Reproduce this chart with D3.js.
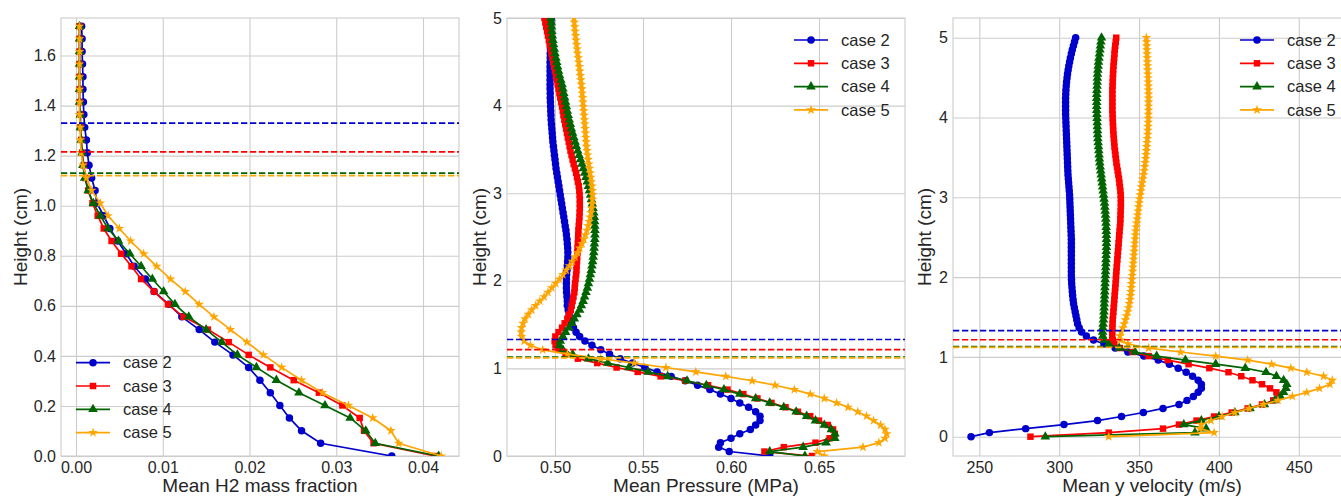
<!DOCTYPE html>
<html>
<head>
<meta charset="utf-8">
<script src="https://cdn.jsdelivr.net/npm/d3@7"></script>
<style>
  body { margin: 0; background: #fff; }
  svg { display: block; font-family: "Liberation Sans", Arial, sans-serif; }
</style>
</head>
<body>
<div id="chart"></div>
<script>
// Sample heights (cm), shared by every profile
const heights = [
  0, 0.051, 0.101, 0.152, 0.202, 0.253, 0.303, 0.354, 0.404, 0.455,
  0.505, 0.556, 0.606, 0.657, 0.707, 0.758, 0.808, 0.859, 0.909, 0.960,
  1.010, 1.061, 1.111, 1.162, 1.212, 1.263, 1.313, 1.364, 1.414, 1.465,
  1.515, 1.566, 1.616, 1.667, 1.717, 1.768, 1.818, 1.869, 1.919, 1.970,
  2.020, 2.071, 2.121, 2.172, 2.222, 2.273, 2.323, 2.374, 2.424, 2.475,
  2.525, 2.576, 2.626, 2.677, 2.727, 2.778, 2.828, 2.879, 2.929, 2.980,
  3.030, 3.081, 3.131, 3.182, 3.232, 3.283, 3.333, 3.384, 3.434, 3.485,
  3.535, 3.586, 3.636, 3.687, 3.737, 3.788, 3.838, 3.889, 3.939, 3.990,
  4.040, 4.091, 4.141, 4.192, 4.242, 4.293, 4.343, 4.394, 4.444, 4.495,
  4.545, 4.596, 4.646, 4.697, 4.747, 4.798, 4.848, 4.899, 4.949, 5.000
];

const caseNames = ["case 2", "case 3", "case 4", "case 5"];
const caseColors = ["#0000cd", "#ff0000", "#006400", "#ffa500"];
const caseSymbols = [d3.symbolCircle, d3.symbolSquare, d3.symbolTriangle, d3.symbolStar];
const symbolSizes = [44, 42, 40, 30];

// Dashed interface heights, one per case
const interfaceHeights = [1.33, 1.215, 1.13, 1.12];

// Mean H2 mass fraction (first 35 heights)
const h2Case2 = [0.0364, 0.0282, 0.026, 0.0246, 0.0235, 0.0224, 0.0212, 0.0199, 0.0181, 0.016,
  0.0142, 0.0122, 0.0107, 0.009, 0.008, 0.0067, 0.0058, 0.0048, 0.0039, 0.0032,
  0.0024, 0.0022, 0.0018, 0.0015, 0.0013, 0.0012, 0.001, 0.0009, 0.00085, 0.0008,
  0.0008, 0.00075, 0.0007, 0.0007, 0.00065];
const h2Case3 = [0.0414, 0.0343, 0.0332, 0.0327, 0.0307, 0.028, 0.0251, 0.0224, 0.0199, 0.0176,
  0.0152, 0.0124, 0.0106, 0.009, 0.0075, 0.0064, 0.0052, 0.0041, 0.0032, 0.0025,
  0.0019, 0.0014, 0.0011, 0.0009, 0.0007, 0.0006, 0.0005, 0.0005, 0.0004, 0.0004,
  0.0004, 0.0004, 0.0004, 0.0004, 0.0004];
const h2Case4 = [0.0418, 0.0345, 0.0334, 0.0316, 0.0287, 0.0257, 0.0231, 0.0208, 0.0186, 0.0168,
  0.015, 0.013, 0.0114, 0.0101, 0.0088, 0.0075, 0.0062, 0.0049, 0.0037, 0.0028,
  0.002, 0.0014, 0.001, 0.0008, 0.0007, 0.0006, 0.0005, 0.0005, 0.0004, 0.0004,
  0.0004, 0.0004, 0.0004, 0.0004, 0.0004];
const h2Case5 = [0.0421, 0.0372, 0.0363, 0.0342, 0.0314, 0.0284, 0.026, 0.0237, 0.0216, 0.0197,
  0.0178, 0.0159, 0.0142, 0.0126, 0.0109, 0.0093, 0.0078, 0.0063, 0.005, 0.0037,
  0.0028, 0.0018, 0.0012, 0.0008, 0.0006, 0.0005, 0.0005, 0.0004, 0.0004, 0.0004,
  0.0004, 0.0004, 0.0004, 0.0004, 0.0004];

// Mean pressure (MPa)
const presCase2 = [0.622, 0.599, 0.593, 0.594, 0.600, 0.605, 0.611, 0.614, 0.6165, 0.6165,
  0.614, 0.610, 0.605, 0.600, 0.594, 0.588, 0.581, 0.574, 0.566, 0.558,
  0.551, 0.544, 0.537, 0.531, 0.526, 0.521, 0.517, 0.514, 0.512, 0.5105,
  0.5095, 0.5085, 0.508, 0.5075, 0.507, 0.507, 0.5068, 0.5066, 0.5065, 0.5065,
  0.5065, 0.5066, 0.5068, 0.507, 0.5072, 0.5073, 0.5073, 0.5072, 0.507, 0.5068,
  0.5065, 0.5062, 0.5058, 0.5054, 0.505, 0.5046, 0.5042, 0.5038, 0.5034, 0.503,
  0.5026, 0.5022, 0.5018, 0.5014, 0.501, 0.5006, 0.5003, 0.5, 0.4997, 0.4994,
  0.4991, 0.4988, 0.4986, 0.4984, 0.4982, 0.498, 0.4978, 0.4977, 0.4976, 0.4975,
  0.4974, 0.4973, 0.4973, 0.4972, 0.4972, 0.4972, 0.4972, 0.4972, 0.4972, 0.4972,
  0.4973, 0.4973, 0.4974, 0.4974, 0.4975, 0.4975, 0.4976, 0.4976, 0.4977, 0.4978];
const presCase3 = [0.646, 0.619, 0.630, 0.648, 0.656, 0.659, 0.658, 0.655, 0.650, 0.645,
  0.638, 0.631, 0.623, 0.615, 0.607, 0.598, 0.587, 0.574, 0.560, 0.547,
  0.535, 0.524, 0.513, 0.506, 0.502, 0.5003, 0.4998, 0.5002, 0.502, 0.504,
  0.5055, 0.507, 0.508, 0.509, 0.5095, 0.510, 0.5105, 0.511, 0.5112, 0.5114,
  0.5117, 0.512, 0.5122, 0.5123, 0.5125, 0.5126, 0.5127, 0.5128, 0.513, 0.5131,
  0.5132, 0.5133, 0.5135, 0.5137, 0.5139, 0.514, 0.5141, 0.5141, 0.5141, 0.514,
  0.5138, 0.5135, 0.513, 0.5125, 0.512, 0.5113, 0.5106, 0.51, 0.5094, 0.5088,
  0.5083, 0.5078, 0.5073, 0.5068, 0.5063, 0.5058, 0.5053, 0.5048, 0.5044, 0.504,
  0.5035, 0.503, 0.5025, 0.502, 0.5015, 0.501, 0.5005, 0.5, 0.4995, 0.499,
  0.4985, 0.498, 0.4975, 0.497, 0.4965, 0.496, 0.4955, 0.495, 0.4945, 0.494];
const presCase4 = [0.642, 0.622, 0.641, 0.654, 0.659, 0.659, 0.657, 0.653, 0.648, 0.643,
  0.637, 0.630, 0.622, 0.614, 0.605, 0.596, 0.586, 0.575, 0.564, 0.553,
  0.542, 0.530, 0.519, 0.510, 0.5045, 0.5025, 0.503, 0.5045, 0.506, 0.508,
  0.5095, 0.511, 0.5125, 0.514, 0.515, 0.516, 0.5168, 0.5176, 0.5184, 0.519,
  0.5196, 0.5201, 0.5206, 0.521, 0.5214, 0.5217, 0.522, 0.5222, 0.5224, 0.5226,
  0.5227, 0.5227, 0.5226, 0.5225, 0.5223, 0.522, 0.5216, 0.5212, 0.5207, 0.5202,
  0.5196, 0.519, 0.5183, 0.5176, 0.5169, 0.5161, 0.5153, 0.5145, 0.5137, 0.5129,
  0.5121, 0.5114, 0.5107, 0.51, 0.5093, 0.5087, 0.5081, 0.5075, 0.507, 0.5065,
  0.506, 0.5055, 0.505, 0.5045, 0.504, 0.5033, 0.5026, 0.502, 0.5015, 0.501,
  0.5005, 0.5, 0.4996, 0.4992, 0.4988, 0.4985, 0.4982, 0.498, 0.4978, 0.4976];
const presCase5 = [0.653, 0.649, 0.675, 0.684, 0.6875, 0.6885, 0.6875, 0.685, 0.681, 0.677,
  0.672, 0.6665, 0.660, 0.653, 0.645, 0.636, 0.625, 0.612, 0.597, 0.580,
  0.563, 0.545, 0.526, 0.507, 0.493, 0.486, 0.4825, 0.481, 0.4808, 0.481,
  0.4818, 0.483, 0.4848, 0.4868, 0.489, 0.4914, 0.4938, 0.496, 0.4982, 0.5004,
  0.5025, 0.5045, 0.5064, 0.5082, 0.5099, 0.5114, 0.5128, 0.5141, 0.5153, 0.5164,
  0.5173, 0.5181, 0.5188, 0.5194, 0.5199, 0.5204, 0.5208, 0.5211, 0.5213, 0.5213,
  0.5212, 0.521, 0.5207, 0.5204, 0.52, 0.5196, 0.5192, 0.5188, 0.5185, 0.5182,
  0.5179, 0.5177, 0.5175, 0.5173, 0.5171, 0.5169, 0.5167, 0.5165, 0.5163, 0.5161,
  0.5159, 0.5157, 0.5155, 0.5153, 0.515, 0.5147, 0.5144, 0.5141, 0.5138, 0.5135,
  0.5132, 0.5129, 0.5126, 0.5123, 0.512, 0.5117, 0.5114, 0.5112, 0.511, 0.5108];

// Mean y velocity (m/s)
const velCase2 = [244.8, 256.3, 279, 303, 324, 339, 352.7, 365, 375, 380,
  384, 387, 389, 389, 387, 383.5, 379.5, 374.5, 369, 362,
  353, 343, 335, 328, 321.5, 317, 314, 312.5, 311.5, 311,
  310.5, 310, 309.5, 309, 308.7, 308.4, 308.2, 308, 307.8, 307.7,
  307.6, 307.6, 307.6, 307.6, 307.6, 307.6, 307.6, 307.6, 307.6, 307.6,
  307.5, 307.4, 307.3, 307.2, 307.1, 307, 306.9, 306.8, 306.7, 306.6,
  306.5, 306.3, 306.1, 305.9, 305.7, 305.5, 305.4, 305.3, 305.2, 305.1,
  305, 304.9, 304.8, 304.7, 304.6, 304.5, 304.4, 304.3, 304.2, 304.1,
  304, 304, 304, 304, 304, 304.1, 304.2, 304.4, 304.6, 304.9,
  305.2, 305.6, 306, 306.5, 307, 307.6, 308.2, 308.9, 309.6, 310.3];
const velCase3 = [282, 331, 365, 375, 386, 397, 408, 418, 427, 434,
  437.5, 436, 432, 427, 421, 414, 406, 394, 381, 368,
  356, 346, 338, 334.5, 333.5, 333.2, 333.2, 333.3, 333.4, 333.5,
  333.7, 333.9, 334.1, 334.3, 334.5, 334.7, 334.9, 335.1, 335.3, 335.5,
  335.6, 335.8, 336, 336.2, 336.4, 336.6, 336.8, 337, 337.2, 337.4,
  337.6, 337.8, 338, 338.2, 338.3, 338.4, 338.5, 338.6, 338.6, 338.6,
  338.5, 338.3, 338, 337.7, 337.4, 337, 336.6, 336.2, 335.8, 335.5,
  335.2, 334.9, 334.6, 334.4, 334.2, 334, 333.8, 333.7, 333.6, 333.5,
  333.4, 333.3, 333.3, 333.3, 333.3, 333.3, 333.3, 333.4, 333.5, 333.6,
  333.7, 333.8, 334, 334.2, 334.4, 334.6, 334.8, 335.1, 335.4, 335.7];
const velCase4 = [291.3, 385, 392, 378, 389, 400, 410, 419.5, 428.5, 435,
  438.5, 440.5, 442, 442.5, 440.5, 436, 429.5, 416.5, 398, 379,
  361, 347.5, 337.5, 331, 328.2, 327.3, 327.2, 327.3, 327.5, 327.7,
  327.9, 328, 328.1, 328.2, 328.3, 328.4, 328.5, 328.6, 328.7, 328.8,
  328.9, 329, 329.1, 329.2, 329.3, 329.4, 329.5, 329.6, 329.6, 329.6,
  329.6, 329.5, 329.4, 329.3, 329.2, 329, 328.8, 328.6, 328.4, 328.1,
  327.8, 327.5, 327.2, 326.9, 326.6, 326.3, 326, 325.7, 325.4, 325.2,
  325, 324.8, 324.6, 324.4, 324.2, 324.1, 324, 323.9, 323.8, 323.7,
  323.6, 323.5, 323.5, 323.5, 323.5, 323.5, 323.6, 323.7, 323.8, 323.9,
  324, 324.2, 324.4, 324.6, 324.9, 325.2, 325.5, 325.8, 326.1, 326.5];
const velCase5 = [331, 397, 388, 389, 395, 402, 410, 419, 428, 437,
  446, 455, 463, 469.5, 471, 465.5, 455, 445, 433, 418,
  398, 376, 356, 343, 338.5, 338, 338.8, 339.8, 340.6, 341.4,
  342.1, 342.8, 343.4, 343.9, 344.3, 344.6, 344.9, 345.1, 345.3, 345.5,
  345.7, 345.9, 346.1, 346.3, 346.5, 346.7, 346.9, 347.1, 347.3, 347.5,
  347.7, 347.9, 348.2, 348.5, 348.8, 349.1, 349.4, 349.7, 350, 350.3,
  350.7, 351.1, 351.5, 351.9, 352.3, 352.7, 353.1, 353.5, 353.8, 354.1,
  354.4, 354.6, 354.8, 355, 355.2, 355.4, 355.5, 355.6, 355.7, 355.8,
  355.8, 355.9, 355.9, 355.9, 355.9, 355.9, 355.8, 355.8, 355.7, 355.6,
  355.5, 355.4, 355.3, 355.2, 355.1, 355, 354.9, 354.8, 354.7, 354.6];

// Axis ticks and labels
const h2Ticks = [0, 0.01, 0.02, 0.03, 0.04];
const h2HeightTicks = [0, 0.2, 0.4, 0.6, 0.8, 1.0, 1.2, 1.4, 1.6];
const presTicks = [0.50, 0.55, 0.60, 0.65];
const velTicks = [250, 300, 350, 400, 450];
const heightTicks = [0, 1, 2, 3, 4, 5];
const xLabels = ["Mean H2 mass fraction", "Mean Pressure (MPa)", "Mean y velocity (m/s)"];
const yLabel = "Height (cm)";

const width = 1341;
const height = 496;
const plotTop = 18;
const pw = 398;
const ph = 438;
const gridColor = "#cccccc";
const textColor = "#262626";

const panels = [
  {
    left: 61, xDomain: [-0.00173, 0.04415], yDomain: [0, 1.75],
    xTicks: h2Ticks, yTicks: h2HeightTicks, xFormat: ".2f", yFormat: ".1f",
    series: [h2Case2, h2Case3, h2Case4, h2Case5], xLabel: xLabels[0],
    yLabelX: 20, legend: "lower"
  },
  {
    left: 507, xDomain: [0.47273, 0.69886], yDomain: [0, 5],
    xTicks: presTicks, yTicks: heightTicks, xFormat: ".2f", yFormat: "d",
    series: [presCase2, presCase3, presCase4, presCase5], xLabel: xLabels[1],
    yLabelX: 479, legend: "upper"
  },
  {
    left: 953, xDomain: [233.5, 482.7], yDomain: [-0.242, 5.247],
    xTicks: velTicks, yTicks: heightTicks, xFormat: "d", yFormat: "d",
    series: [velCase2, velCase3, velCase4, velCase5], xLabel: xLabels[2],
    yLabelX: 924, legend: "upper"
  }
];

const svg = d3
  .select("#chart")
  .append("svg")
  .attr("width", width)
  .attr("height", height);

svg.append("rect").attr("width", width).attr("height", height).attr("fill", "#fff");

function drawPanel(p, idx) {
  const x = d3.scaleLinear().domain(p.xDomain).range([0, pw]);
  const y = d3.scaleLinear().domain(p.yDomain).range([ph, 0]);

  const g = svg.append("g").attr("transform", `translate(${p.left},${plotTop})`);

  g.append("clipPath")
    .attr("id", `clip${idx}`)
    .append("rect")
    .attr("width", pw)
    .attr("height", ph);

  // Grid lines come from the axes themselves
  const xAxis = g
    .append("g")
    .attr("transform", `translate(0,${ph})`)
    .call(
      d3.axisBottom(x).tickValues(p.xTicks).tickFormat(d3.format(p.xFormat))
        .tickSize(-ph).tickPadding(5.5)
    );
  const yAxis = g
    .append("g")
    .call(
      d3.axisLeft(y).tickValues(p.yTicks).tickFormat(d3.format(p.yFormat))
        .tickSize(-pw).tickPadding(5)
    );

  [xAxis, yAxis].forEach((a) => {
    a.select(".domain").remove();
    a.selectAll(".tick line").attr("stroke", gridColor).attr("stroke-width", 1.1);
    a.selectAll(".tick text")
      .attr("fill", textColor)
      .style("font-size", "16px")
      .style("font-family", "'Liberation Sans', Arial, sans-serif");
  });

  g.append("rect")
    .attr("width", pw)
    .attr("height", ph)
    .attr("fill", "none")
    .attr("stroke", gridColor)
    .attr("stroke-width", 1.1);

  const plot = g.append("g").attr("clip-path", `url(#clip${idx})`);

  const line = d3
    .line()
    .x((d) => x(d[0]))
    .y((d) => y(d[1]));

  p.series.forEach((values, k) => {
    const pts = values.map((v, i) => [v, heights[i]]);
    plot
      .append("path")
      .datum(pts)
      .attr("fill", "none")
      .attr("stroke", caseColors[k])
      .attr("stroke-width", 1.7)
      .attr("d", line);

    plot
      .selectAll(null)
      .data(pts)
      .enter()
      .append("path")
      .attr("transform", (d) => `translate(${x(d[0])},${y(d[1])})`)
      .attr("d", d3.symbol().type(caseSymbols[k]).size(symbolSizes[k]))
      .attr("fill", caseColors[k]);
  });

  // Interface heights
  plot
    .selectAll(null)
    .data(interfaceHeights)
    .enter()
    .append("line")
    .attr("x1", 0)
    .attr("x2", pw)
    .attr("y1", (d) => y(d))
    .attr("y2", (d) => y(d))
    .attr("stroke", (d, i) => caseColors[i])
    .attr("stroke-width", 1.7)
    .attr("stroke-dasharray", "6.3,2.7");

  // Axis titles
  g.append("text")
    .attr("x", pw / 2)
    .attr("y", 491.5 - plotTop)
    .attr("text-anchor", "middle")
    .attr("fill", textColor)
    .style("font-size", "19px")
    .text(p.xLabel);

  svg.append("text")
    .attr("transform", `translate(${p.yLabelX},${plotTop + ph / 2}) rotate(-90)`)
    .attr("dy", "0.35em")
    .attr("text-anchor", "middle")
    .attr("fill", textColor)
    .style("font-size", "19px")
    .text(yLabel);

  // Legend (no frame)
  const lx = p.legend === "lower" ? 15 : pw - 111;
  const ly = p.legend === "lower" ? 344.7 : 22;
  const legend = g.append("g").attr("transform", `translate(${lx},${ly})`);
  caseNames.forEach((name, k) => {
    const row = legend.append("g").attr("transform", `translate(0,${k * 23.3})`);
    row.append("line")
      .attr("x1", 0)
      .attr("x2", 34)
      .attr("stroke", caseColors[k])
      .attr("stroke-width", 1.7);
    row.append("path")
      .attr("transform", "translate(17,0)")
      .attr("d", d3.symbol().type(caseSymbols[k]).size(symbolSizes[k]))
      .attr("fill", caseColors[k]);
    row.append("text")
      .attr("x", 47)
      .attr("dy", "0.35em")
      .attr("fill", textColor)
      .style("font-size", "16.5px")
      .text(name);
  });
}

panels.forEach(drawPanel);
</script>
</body>
</html>
